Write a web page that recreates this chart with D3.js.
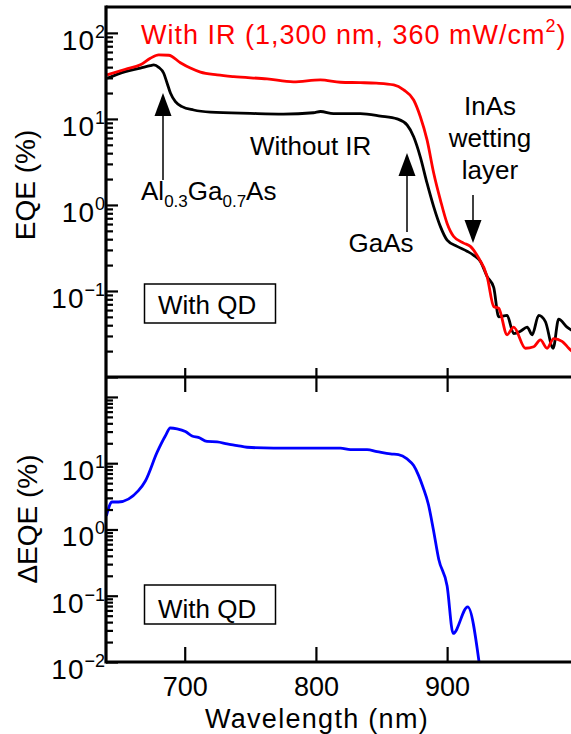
<!DOCTYPE html>
<html lang="en">
<head>
  <meta charset="UTF-8">
  <title>EQE with and without IR</title>
  <style>
    body { margin: 0; background: #fff; }
    text { font-family: "Liberation Sans", Arial, sans-serif; }
  </style>
</head>
<body>

  <svg id="svg" width="571" height="734"></svg>

  <script src="https://cdn.jsdelivr.net/npm/d3@7"></script>
  <script>
    // values
    const wlBlack = [640.8, 654.8, 666.2, 673.8, 676.4, 680.2, 684, 686.6, 689.1, 692.9, 698, 706.8, 719.6, 750, 775.2, 798.1, 803.5, 813.4, 833.9, 849.2, 861.9, 869.5, 874.5, 879.6, 884.7, 889.8, 894.9, 900, 907.6, 915.2, 920.3, 925.4, 930.5, 935.5, 939.3, 945.7, 950.7, 955.9, 961, 964.8, 969.8, 974.9, 980.8, 985, 991.4, 997.7];
    const eqeBlack = [29.7, 35.5, 39, 41.7, 42.5, 39.8, 34, 26, 20, 15.9, 13.9, 12.7, 12, 11.6, 11.4, 11.8, 12.2, 11.5, 11.5, 10.8, 10, 8.5, 6.2, 3.6, 1.79, 0.95, 0.56, 0.39, 0.33, 0.29, 0.26, 0.22, 0.147, 0.11, 0.05, 0.052, 0.032, 0.034, 0.038, 0.031, 0.052, 0.044, 0.0216, 0.047, 0.038, 0.033];

    const wlRed = [640.8, 654.8, 666.2, 673.8, 680.2, 687.8, 696.7, 704.3, 712, 724.7, 737.3, 762.8, 782.8, 803.4, 818.7, 833.9, 846, 859.3, 866.9, 874.5, 879.6, 884.7, 889.8, 894.9, 900, 905, 912.6, 917.7, 922.8, 930.5, 935.5, 939.3, 945.7, 950.7, 959.7, 966, 971.1, 976.2, 981.2, 987.6, 992.7, 998.4];
    const eqeRed = [32.5, 37.8, 42.5, 50.7, 55.5, 55, 45, 39, 35, 32.5, 31, 29.2, 27, 28.4, 26.7, 26.4, 26, 24.8, 21.7, 16.6, 10.6, 5.7, 2.34, 1.14, 0.61, 0.43, 0.36, 0.33, 0.26, 0.147, 0.066, 0.063, 0.031, 0.038, 0.0216, 0.0225, 0.027, 0.0216, 0.028, 0.026, 0.0216, 0.018];

    const wlDelta = [640.3, 644.6, 649.5, 664.7, 670, 679, 685.3, 689, 694.2, 700.5, 705.6, 710.4, 717, 724.7, 732.3, 740, 747.5, 767.8, 788.2, 818.7, 826.3, 839, 846.6, 856.8, 862.9, 869.5, 874.5, 878.3, 881.7, 885.7, 889.5, 893.6, 900, 904.6, 915.7, 924.5];
    const eqeDelta = [1.6, 2.6, 2.6, 3.85, 5.4, 14.7, 26, 34, 33, 30, 25.7, 24.5, 21.3, 21, 19.6, 18.5, 17.4, 16.9, 16.9, 16.9, 16, 16, 15, 13.8, 13.5, 11.6, 9.2, 6.5, 4.3, 2.4, 1.0, 0.355, 0.14, 0.027, 0.068, 0.0095];

    const xTicks = [700, 800, 900];
    const topLabels = [[100, '2'], [10, '1'], [1, '0'], [0.1, '\u22121']];
    const bottomLabels = [[10, '1'], [1, '0'], [0.1, '\u22121'], [0.01, '\u22122']];

    const left = 106, right = 580;
    const top1 = 7, mid = 377, bot2 = 662;
    const fs = 26;

    const svg = d3.select('#svg');

    const x = d3.scaleLinear().domain([640, 1000]).range([left, left + 360 * 1.312]);
    const yTop = d3.scaleLog().domain([0.01, 200]).range([mid, top1]);
    const yBot = d3.scaleLog().domain([0.01, 200]).range([bot2, mid]);

    function decadeTicks(lo, hi) {
      const major = [], minor = [];
      for (let e = lo; e <= hi; e++) {
        major.push(Math.pow(10, e));
        if (e < hi) for (let k = 2; k <= 9; k++) minor.push(k * Math.pow(10, e));
      }
      return { major, minor };
    }
    const tk = decadeTicks(-2, 2);

    // clip paths
    const defs = svg.append('defs');
    defs.append('clipPath').attr('id', 'clipTop').append('rect')
      .attr('x', left).attr('y', top1).attr('width', right - left).attr('height', mid - top1);
    defs.append('clipPath').attr('id', 'clipBot').append('rect')
      .attr('x', left).attr('y', mid).attr('width', right - left).attr('height', bot2 - mid);

    const lineTop = d3.line().x(d => x(d[0])).y(d => yTop(d[1])).curve(d3.curveMonotoneX);
    const lineBot = d3.line().x(d => x(d[0])).y(d => yBot(d[1])).curve(d3.curveMonotoneX);

    svg.append('path')
      .attr('d', lineTop(d3.zip(wlBlack, eqeBlack)))
      .attr('clip-path', 'url(#clipTop)')
      .attr('fill', 'none').attr('stroke', '#000').attr('stroke-width', 2.8).attr('stroke-linejoin', 'round');
    svg.append('path')
      .attr('d', lineTop(d3.zip(wlRed, eqeRed)))
      .attr('clip-path', 'url(#clipTop)')
      .attr('fill', 'none').attr('stroke', '#ff0000').attr('stroke-width', 2.8).attr('stroke-linejoin', 'round');
    svg.append('path')
      .attr('d', lineBot(d3.zip(wlDelta, eqeDelta)))
      .attr('clip-path', 'url(#clipBot)')
      .attr('fill', 'none').attr('stroke', '#0000ff').attr('stroke-width', 2.8).attr('stroke-linejoin', 'round');

    // axes
    function styleAxis(g) {
      g.select('.domain').remove();
      g.selectAll('.tick line').attr('stroke', '#000').attr('stroke-width', 2.2);
    }
    function yAxes(scale, labels) {
      svg.append('g').attr('transform', `translate(${left},0)`)
        .call(d3.axisRight(scale).tickValues(tk.minor).tickSize(7).tickFormat(''))
        .call(styleAxis);
      svg.append('g').attr('transform', `translate(${left},0)`)
        .call(d3.axisRight(scale).tickValues(tk.major).tickSize(12).tickFormat(''))
        .call(styleAxis);
      labels.forEach(([v, e]) => {
        const t = svg.append('text')
          .attr('x', left - 1).attr('y', scale(v) + 17)
          .attr('text-anchor', 'end').attr('font-size', 28);
        t.append('tspan').attr('letter-spacing', 1).text('10');
        t.append('tspan').attr('dy', -12).attr('font-size', 18).text(e);
      });
    }
    yAxes(yTop, topLabels);
    yAxes(yBot, bottomLabels);

    svg.append('g').attr('transform', `translate(0,${mid})`)
      .call(d3.axisTop(x).tickValues(xTicks).tickSize(9).tickFormat(''))
      .call(styleAxis);
    svg.append('g').attr('transform', `translate(0,${mid})`)
      .call(d3.axisBottom(x).tickValues(xTicks).tickSize(15).tickFormat(''))
      .call(styleAxis);
    svg.append('g').attr('transform', `translate(0,${bot2})`)
      .call(d3.axisBottom(x).tickValues(xTicks).tickSizeInner(-15).tickSizeOuter(0).tickPadding(15))
      .call(styleAxis)
      .call(g => g.selectAll('.tick text').attr('font-size', 27).attr('fill', '#000')
        .attr('font-family', '"Liberation Sans", Arial, sans-serif'));

    // frame lines
    const frame = svg.append('g').attr('stroke', '#000').attr('stroke-width', 3.2);
    frame.append('line').attr('x1', left).attr('x2', left).attr('y1', top1 - 1.5).attr('y2', bot2 + 1.5);
    [top1, mid, bot2].forEach(yy => frame.append('line').attr('x1', left).attr('x2', right).attr('y1', yy).attr('y2', yy));

    // axis titles
    svg.append('text').attr('transform', 'translate(35,185) rotate(-90)')
      .attr('text-anchor', 'middle').attr('font-size', 28).text('EQE (%)');
    svg.append('text').attr('transform', 'translate(37,519) rotate(-90)')
      .attr('text-anchor', 'middle').attr('font-size', 28).text('\u0394EQE (%)');
    svg.append('text').attr('x', 317).attr('y', 728)
      .attr('text-anchor', 'middle').attr('font-size', 27).attr('letter-spacing', 1.3).text('Wavelength (nm)');

    // annotations
    const title = svg.append('text').attr('x', 141).attr('y', 44)
      .attr('font-size', 27).attr('letter-spacing', 1).attr('fill', '#ff0000');
    title.append('tspan').text('With IR (1,300 nm, 360 mW/cm');
    title.append('tspan').attr('dy', -12).attr('font-size', 18).text('2');
    title.append('tspan').attr('dy', 12).text(')');

    svg.append('text').attr('x', 250).attr('y', 155).attr('font-size', fs).text('Without IR');

    const al = svg.append('text').attr('x', 141).attr('y', 200).attr('font-size', fs);
    al.append('tspan').text('Al');
    al.append('tspan').attr('dy', 7).attr('font-size', 17).text('0.3');
    al.append('tspan').attr('dy', -7).text('Ga');
    al.append('tspan').attr('dy', 7).attr('font-size', 17).text('0.7');
    al.append('tspan').attr('dy', -7).text('As');

    svg.append('text').attr('x', 381).attr('y', 252).attr('text-anchor', 'middle')
      .attr('font-size', fs).text('GaAs');
    ['InAs', 'wetting', 'layer'].forEach((s, i) => {
      svg.append('text').attr('x', 490).attr('y', 115 + i * 32).attr('text-anchor', 'middle')
        .attr('font-size', fs).text(s);
    });

    function arrow(xx, yTail, yTip) {
      const dir = yTip < yTail ? 1 : -1;
      const headLen = 23, headW = 8.5;
      svg.append('line').attr('x1', xx).attr('x2', xx).attr('y1', yTail).attr('y2', yTip + dir * headLen)
        .attr('stroke', '#000').attr('stroke-width', 1.5);
      svg.append('path')
        .attr('d', `M${xx},${yTip} L${xx - headW},${yTip + dir * headLen} L${xx + headW},${yTip + dir * headLen} Z`)
        .attr('fill', '#000');
    }
    arrow(163, 180, 93);
    arrow(407, 232, 153);
    arrow(473, 195, 243);

    // "With QD" boxes
    [[284, 314], [585, 618]].forEach(([by, ty]) => {
      svg.append('rect').attr('x', 144.5).attr('y', by).attr('width', 131).attr('height', 39)
        .attr('fill', '#fff').attr('stroke', '#000').attr('stroke-width', 1.5);
      svg.append('text').attr('x', 158).attr('y', ty).attr('font-size', fs).text('With QD');
    });
  </script>
</body>
</html>
